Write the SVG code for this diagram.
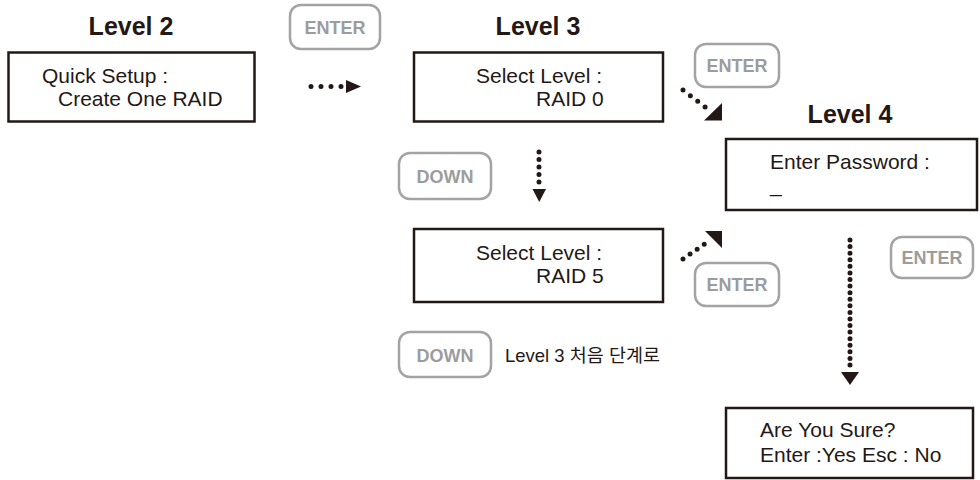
<svg xmlns="http://www.w3.org/2000/svg" width="980" height="480" viewBox="0 0 980 480">
<defs>
<style>
.box{fill:#fff;stroke:#231815;stroke-width:2.5}
.btn{fill:#fff;stroke:#a3a3a3;stroke-width:2.5}
.btxt{font-family:"Liberation Sans",Arial,sans-serif;font-weight:bold;font-size:18px;fill:#9c9c9c;text-anchor:middle}
.title{font-family:"Liberation Sans",Arial,sans-serif;font-weight:bold;font-size:25px;fill:#231815;text-anchor:middle}
.t{font-family:"Liberation Sans",Arial,sans-serif;font-size:21px;fill:#231815}
.k{font-family:"Liberation Sans","Noto Sans CJK KR",sans-serif;font-size:18.5px;fill:#231815}
.dot{fill:none;stroke:#231815;stroke-width:5;stroke-linecap:round}
.head{fill:#231815}
</style>
</defs>
<rect width="980" height="480" fill="#fff"/>

<g id="level2">
<text class="title" x="131" y="35">Level 2</text>
<rect class="box" x="8.5" y="52.5" width="246" height="69"/>
<text class="t" x="42" y="83">Quick Setup :</text>
<text class="t" x="58" y="106">Create One RAID</text>
</g>

<g id="enter1">
<rect class="btn" x="290" y="5" width="90" height="44" rx="11"/>
<text class="btxt" x="335" y="33.5">ENTER</text>
</g>

<g id="level3">
<text class="title" x="538" y="35">Level 3</text>
<rect class="box" x="414" y="52.5" width="249" height="69"/>
<text class="t" x="476" y="83">Select Level :</text>
<text class="t" x="536" y="106">RAID 0</text>
</g>

<g id="enter2">
<rect class="btn" x="695" y="44" width="84" height="43" rx="11"/>
<text class="btxt" x="737" y="72">ENTER</text>
</g>

<g id="down1">
<rect class="btn" x="399" y="153" width="92" height="46" rx="11"/>
<text class="btxt" x="445" y="183">DOWN</text>
</g>

<g id="raid5">
<rect class="box" x="414" y="229" width="249" height="73"/>
<text class="t" x="476" y="260">Select Level :</text>
<text class="t" x="536" y="283">RAID 5</text>
</g>

<g id="enter3">
<rect class="btn" x="695" y="263" width="84" height="43" rx="11"/>
<text class="btxt" x="737" y="291">ENTER</text>
</g>

<g id="down2">
<rect class="btn" x="399" y="332" width="92" height="45" rx="11"/>
<text class="btxt" x="445" y="361.5">DOWN</text>
<text class="k" x="505" y="362">Level 3 처음 단계로</text>
</g>

<g id="level4">
<text class="title" x="850" y="123">Level 4</text>
<rect class="box" x="726" y="139" width="251" height="71"/>
<text class="t" x="770" y="169">Enter Password :</text>
<text class="t" x="770" y="192">_</text>
</g>

<g id="enter4">
<rect class="btn" x="891" y="237" width="82" height="41" rx="11"/>
<text class="btxt" x="932" y="264">ENTER</text>
</g>

<g id="confirm">
<rect class="box" x="726" y="408" width="247" height="70"/>
<text class="t" x="760" y="437">Are You Sure?</text>
<text class="t" x="760" y="462">Enter :Yes Esc : No</text>
</g>

<g id="connectors">
<path class="dot" d="M311 86.5 H341.5" stroke-dasharray="0 10"/>
<polygon class="head" points="346,80 346,93 361,86.5"/>
<path class="dot" d="M683 90 L705.4 107.3" stroke-dasharray="0 9.3"/>
<polygon class="head" points="704,120.5 722,120.5 722,103"/>
<path class="dot" d="M539 152 V182.5" stroke-dasharray="0 7.5"/>
<polygon class="head" points="532.5,189 546,189 539.25,202"/>
<path class="dot" d="M683 259 L704.4 244.2" stroke-dasharray="0 8.6"/>
<polygon class="head" points="705,231 722,231 722,248"/>
<path class="dot" d="M850 240 V365.5" stroke-dasharray="0 6.58"/>
<polygon class="head" points="841,372 859,372 850,385"/>
</g>
</svg>
